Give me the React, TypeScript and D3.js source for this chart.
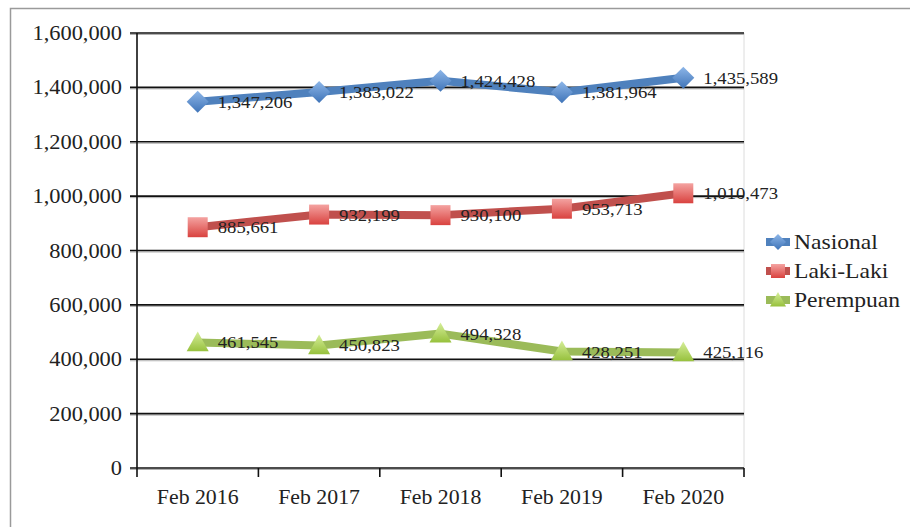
import React from "react";
import * as d3 from "d3";

const categories = ["Feb 2016", "Feb 2017", "Feb 2018", "Feb 2019", "Feb 2020"];
const nasional = [1347206, 1383022, 1424428, 1381964, 1435589];
const lakiLaki = [885661, 932199, 930100, 953713, 1010473];
const perempuan = [461545, 450823, 494328, 428251, 425116];
const yTicks = [0, 200000, 400000, 600000, 800000, 1000000, 1200000, 1400000, 1600000];

const seriesList = [
  { name: "Nasional", values: nasional, line: "#4F81BD", light: "#8DB6E8", dark: "#3F74B8", shape: "diamond" },
  { name: "Laki-Laki", values: lakiLaki, line: "#C0504D", light: "#F4A3A1", dark: "#D9423F", shape: "square" },
  { name: "Perempuan", values: perempuan, line: "#9BBB59", light: "#D6EE9A", dark: "#97C13D", shape: "triangle" },
];

const W = 910, H = 527;
const left = 137, right = 744, top = 33, bottom = 468;

function markerPath(shape: string, s: number) {
  const h = s / 2;
  if (shape === "diamond") return `M0,${-h}L${h},0L0,${h}L${-h},0Z`;
  if (shape === "square") return `M${-h},${-h}H${h}V${h}H${-h}Z`;
  return `M0,${-h}L${h},${h * 0.8}L${-h},${h * 0.8}Z`;
}

const serif = "'Liberation Serif', 'Times New Roman', serif";

function SText(props: { x: number; y: number; sx: number; size: number; anchor?: string; children: React.ReactNode }) {
  return (
    <text
      transform={`translate(${props.x},${props.y}) scale(${props.sx},1)`}
      dy="0.35em"
      textAnchor={props.anchor || "start"}
      fontFamily={serif}
      fontSize={props.size}
      fill="#222"
    >
      {props.children}
    </text>
  );
}

export default function App() {
  const x = d3.scaleBand<string>().domain(categories).range([left, right]);
  const y = d3.scaleLinear().domain([0, 1600000]).range([bottom, top]);
  const fmt = d3.format(",");
  const lineGen = d3.line<number>().x((_, i) => (x(categories[i]) as number) + x.bandwidth() / 2).y((v) => y(v));
  const bounds = categories.map((c) => x(c) as number).concat([right]);

  return (
    <svg width={W} height={H} style={{ position: "absolute", left: 0, top: 0 }}>
      <defs>
        {seriesList.map((s, i) => (
          <linearGradient key={i} id={`g${i}`} x1="0" y1="0" x2="0" y2="1">
            <stop offset="0" stopColor={s.light} />
            <stop offset="1" stopColor={s.dark} />
          </linearGradient>
        ))}
      </defs>
      <rect x={0} y={0} width={W} height={H} fill="#fff" />
      <path d={`M10.5,${H}V8.5H${W}`} fill="none" stroke="#9a9a9a" strokeWidth={1.5} />
      <line x1={right} x2={right} y1={top} y2={bottom} stroke="#dcdcdc" strokeWidth={1} />
      {yTicks.map((t) => (
        <g key={t}>
          <line x1={130} x2={right} y1={y(t) + 1.5} y2={y(t) + 1.5} stroke="#b0b0b0" strokeWidth={1} />
          <line x1={130} x2={right} y1={y(t)} y2={y(t)} stroke="#111" strokeWidth={1.6} />
          <SText x={122} y={y(t)} sx={1.12} size={20} anchor="end">
            {fmt(t)}
          </SText>
        </g>
      ))}
      <line x1={left} x2={left} y1={top} y2={bottom} stroke="#111" strokeWidth={1.6} />
      {bounds.map((b, i) => (
        <line key={i} x1={b} x2={b} y1={bottom} y2={bottom + 9} stroke="#111" strokeWidth={1.6} />
      ))}
      {categories.map((c) => (
        <SText key={c} x={(x(c) as number) + x.bandwidth() / 2} y={497} sx={1.09} size={20} anchor="middle">
          {c}
        </SText>
      ))}
      {seriesList.map((s, si) => (
        <g key={s.name}>
          <path d={lineGen(s.values) as string} fill="none" stroke={s.line} strokeWidth={8} strokeLinejoin="round" />
          {s.values.map((v, i) => {
            const cx = (x(categories[i]) as number) + x.bandwidth() / 2;
            return (
              <path key={i} d={markerPath(s.shape, s.shape === "square" ? 20 : 22)} transform={`translate(${cx},${y(v)})`} fill={`url(#g${si})`} />
            );
          })}
          {s.values.map((v, i) => {
            const cx = (x(categories[i]) as number) + x.bandwidth() / 2;
            return (
              <SText key={`t${i}`} x={cx + 20} y={y(v)} sx={1.1} size={17}>
                {fmt(v)}
              </SText>
            );
          })}
        </g>
      ))}
      {seriesList.map((s, si) => {
        const ly = 242 + si * 29;
        return (
          <g key={`l${si}`}>
            <line x1={766} x2={790} y1={ly} y2={ly} stroke={s.line} strokeWidth={8} />
            <path d={markerPath(s.shape, s.shape === "square" ? 14 : 16)} transform={`translate(778,${ly})`} fill={`url(#g${si})`} />
            <SText x={794} y={ly} sx={1.18} size={20}>
              {s.name}
            </SText>
          </g>
        );
      })}
    </svg>
  );
}
